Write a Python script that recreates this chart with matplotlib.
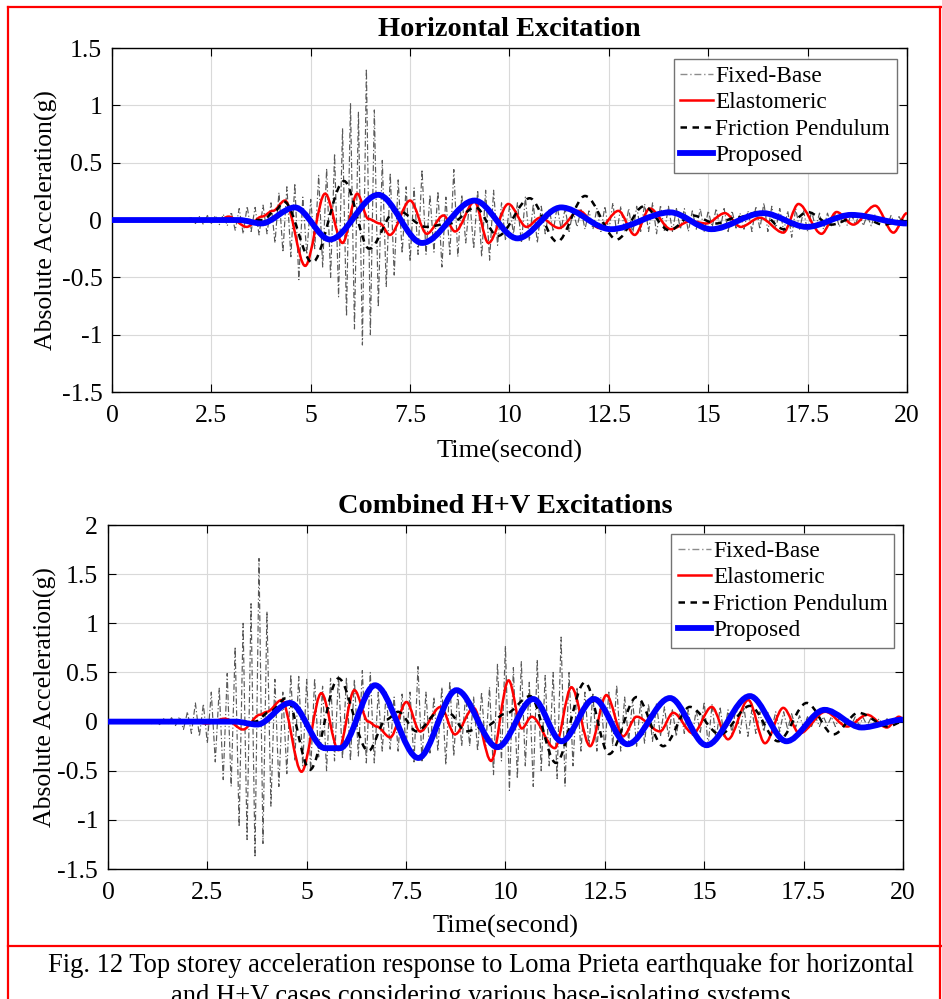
import numpy as np
import matplotlib.pyplot as plt
from matplotlib.path import Path
from matplotlib.patches import PathPatch
from matplotlib.lines import Line2D

plt.rcParams['font.family'] = ['Liberation Serif', 'DejaVu Serif']
plt.rcParams['axes.unicode_minus'] = False

# ---- data ----
# fixed-base response, sampled every 0.1 s starting at t = 1.0 s (one row per second)
FB_T0 = 1.0
FB_DT = 0.1
fb_top = [
    0.00, 0.00, 0.00, 0.00, 0.00, 0.00, 0.00, 0.01, -0.01, 0.01,          # 1 s
    0.02, -0.03, 0.03, -0.04, 0.04, -0.03, 0.04, -0.04, 0.05, -0.05,      # 2 s
    0.07, -0.09, 0.10, -0.12, 0.12, -0.10, 0.11, -0.13, 0.13, -0.12,      # 3 s
    0.15, -0.20, 0.24, -0.28, 0.29, -0.32, 0.32, -0.52, 0.20, -0.30,      # 4 s
    0.18, -0.25, 0.39, -0.41, 0.45, -0.50, 0.58, -0.67, 0.80, -0.84,      # 5 s
    1.02, -0.95, 0.94, -1.09, 1.32, -1.00, 0.96, -0.76, 0.52, -0.58,      # 6 s
    0.41, -0.48, 0.35, -0.29, 0.29, -0.36, 0.28, -0.30, 0.44, -0.30,      # 7 s
    0.22, -0.28, 0.25, -0.41, 0.20, -0.30, 0.44, -0.32, 0.22, -0.20,      # 8 s
    0.18, -0.25, 0.26, -0.32, 0.26, -0.35, 0.26, -0.22, 0.15, -0.18,      # 9 s
    0.12, -0.12, 0.15, -0.20, 0.20, -0.18, 0.14, -0.20, 0.12, -0.12,      # 10 s
    0.10, -0.10, 0.12, -0.08, 0.10, -0.10, 0.08, -0.06, 0.09, -0.08,      # 11 s
    0.08, -0.08, 0.10, -0.10, 0.12, -0.10, 0.15, -0.12, 0.12, -0.10,      # 12 s
    0.10, -0.12, 0.12, -0.10, 0.14, -0.10, 0.15, -0.12, 0.13, -0.10,      # 13 s
    0.12, -0.10, 0.10, -0.08, 0.10, -0.10, 0.08, -0.08, 0.10, -0.10,      # 14 s
    0.08, -0.06, 0.10, -0.08, 0.10, -0.10, 0.08, -0.07, 0.06, -0.08,      # 15 s
    0.08, -0.10, 0.12, -0.08, 0.15, -0.10, 0.12, -0.08, 0.10, -0.10,      # 16 s
    0.08, -0.15, 0.10, -0.08, 0.08, -0.10, 0.08, -0.07, 0.06, -0.08,      # 17 s
    0.06, -0.05, 0.06, -0.06, 0.05, -0.05, 0.06, -0.04, 0.05, -0.05,      # 18 s
    0.04, -0.05, 0.05, -0.04, 0.04, -0.05, 0.04, -0.04, 0.03, -0.03,      # 19 s
]
fb_bot = [
    0.01, -0.02, 0.02, -0.03, 0.03, -0.03, 0.04, -0.04, 0.05, -0.08,      # 1 s
    0.10, -0.12, 0.19, -0.15, 0.18, -0.22, 0.30, -0.41, 0.34, -0.59,      # 2 s
    0.49, -0.66, 0.76, -1.07, 1.00, -1.20, 1.20, -1.38, 1.66, -1.24,      # 3 s
    1.12, -0.86, 0.43, -0.66, 0.30, -0.53, 0.48, -0.40, 0.46, -0.45,      # 4 s
    0.43, -0.50, 0.44, -0.36, 0.36, -0.50, 0.44, -0.40, 0.47, -0.38,      # 5 s
    0.45, -0.40, 0.43, -0.35, 0.52, -0.42, 0.50, -0.42, 0.30, -0.30,      # 6 s
    0.30, -0.28, 0.25, -0.30, 0.28, -0.25, 0.30, -0.41, 0.56, -0.40,      # 7 s
    0.30, -0.32, 0.25, -0.30, 0.35, -0.44, 0.41, -0.35, 0.30, -0.25,      # 8 s
    0.28, -0.25, 0.25, -0.30, 0.30, -0.28, 0.35, -0.54, 0.59, -0.40,      # 9 s
    0.77, -0.70, 0.55, -0.58, 0.61, -0.45, 0.40, -0.66, 0.63, -0.50,      # 10 s
    0.47, -0.45, 0.50, -0.58, 0.86, -0.66, 0.50, -0.45, 0.35, -0.30,      # 11 s
    0.30, -0.25, 0.28, -0.30, 0.25, -0.28, 0.30, -0.25, 0.37, -0.30,      # 12 s
    0.25, -0.20, 0.22, -0.25, 0.20, -0.22, 0.18, -0.20, 0.18, -0.15,      # 13 s
    0.15, -0.15, 0.12, -0.15, 0.15, -0.12, 0.12, -0.15, 0.12, -0.12,      # 14 s
    0.20, -0.24, 0.18, -0.20, 0.15, -0.15, 0.12, -0.12, 0.15, -0.12,      # 15 s
    0.15, -0.15, 0.12, -0.12, 0.10, -0.10, 0.10, -0.08, 0.10, -0.10,      # 16 s
    0.10, -0.08, 0.08, -0.06, 0.06, -0.06, 0.05, -0.05, 0.05, -0.05,      # 17 s
    0.05, -0.04, 0.05, -0.05, 0.04, -0.05, 0.04, -0.04, 0.05, -0.04,      # 18 s
    0.04, -0.04, 0.04, -0.03, 0.03, -0.04, 0.03, -0.03, 0.03, -0.03,      # 19 s
]

# isolated systems: turning points (time s, acceleration g)
elas_top_t = [0, 2.7, 2.93, 3.39, 3.77, 4.05, 4.35, 4.86, 5.36, 5.8, 6.17, 6.45, 6.74, 6.99,
              7.5, 7.92, 8.34, 8.63, 9.12, 9.47, 9.97, 10.43, 10.77, 11.25, 11.75, 12.26,
              12.74, 13.15, 13.53, 14.06, 14.55, 14.95, 15.42, 15.82, 16.3, 16.89, 17.27,
              17.85, 18.23, 18.65, 19.2, 19.66, 20]
elas_top_v = [0, 0, 0.03, -0.06, 0.03, 0.08, 0.17, -0.40, 0.23, -0.20, 0.23, 0.01, -0.03, -0.13,
              0.17, -0.12, 0.04, -0.10, 0.16, -0.20, 0.14, -0.06, 0.02, -0.07, 0.08, -0.07,
              0.08, -0.13, 0.10, -0.08, -0.01, -0.03, 0.06, -0.06, 0.02, -0.11, 0.14,
              -0.12, 0.07, -0.04, 0.125, -0.11, 0.06]
fp_top_t = [0, 3.8, 4.1, 4.33, 5.04, 5.84, 6.47, 7.15, 7.9, 8.5, 9.15, 9.7, 10.51, 11.2, 11.9,
            12.7, 13.38, 14.02, 14.6, 15.2, 15.7, 16.3, 16.9, 17.5, 18.1, 18.8, 19.4, 20]
fp_top_v = [0, 0, 0.08, 0.16, -0.37, 0.34, -0.25, 0.09, -0.06, -0.03, 0.11, -0.14, 0.19, -0.19,
            0.21, -0.17, 0.12, -0.09, 0.04, -0.03, 0.02, 0.07, -0.08, 0.07, -0.04, 0.04, -0.04, 0]
prop_top_t = [0, 3.2, 3.75, 4.6, 5.48, 6.7, 7.8, 9.12, 10.2, 11.3, 12.55, 14.04, 15.08, 16.38,
              17.48, 18.6, 20]
prop_top_v = [0, 0, -0.03, 0.11, -0.17, 0.22, -0.20, 0.17, -0.16, 0.11, -0.08, 0.067, -0.08,
              0.06, -0.06, 0.045, -0.03]

elas_bot_t = [0, 2.2, 2.48, 2.94, 3.4, 3.82, 4.0, 4.37, 4.87, 5.37, 5.8, 6.2, 6.55, 6.76, 7.1,
              7.51, 7.85, 8.37, 8.73, 9.2, 9.64, 10.08, 10.41, 10.66, 11.24, 11.66, 12.13,
              12.54, 12.96, 13.3, 13.89, 14.22, 14.72, 15.19, 15.6, 16.11, 16.53, 16.99,
              17.4, 18.05, 18.6, 19.1, 19.6, 19.9, 20]
elas_bot_v = [0, 0, -0.02, 0.03, -0.08, 0.07, 0.10, 0.22, -0.51, 0.29, -0.29, 0.32, 0.0, -0.05,
              -0.16, 0.20, -0.10, 0.15, -0.13, 0.14, -0.40, 0.42, -0.07, 0.05, -0.27, 0.35,
              -0.25, 0.27, -0.15, 0.05, -0.10, 0.09, -0.12, 0.15, -0.18, 0.22, -0.22, 0.14,
              -0.12, 0.10, -0.05, 0.07, -0.06, 0.05, 0.03]
fp_bot_t = [0, 3.7, 4.07, 4.49, 5.08, 5.8, 6.55, 7.0, 7.3, 7.77, 8.3, 8.6, 9.0, 9.5, 10.0, 10.62,
            11.27, 12.0, 12.61, 13.3, 13.97, 14.64, 15.4, 16.15, 16.86, 17.58, 18.25, 18.88,
            19.63, 20]
fp_bot_v = [0, 0, 0.10, 0.24, -0.49, 0.44, -0.30, 0.02, 0.10, -0.10, 0.09, 0.08, -0.10, -0.05,
            0.08, 0.26, -0.42, 0.40, -0.33, 0.25, -0.25, 0.15, -0.13, 0.16, -0.20, 0.19, -0.13,
            0.09, -0.05, 0]
prop_bot_t = [0, 3.2, 3.75, 4.58, 5.46, 5.84, 6.72, 7.81, 8.77, 9.8, 10.7, 11.41, 12.23, 13.07,
              14.14, 15.06, 16.15, 17.07, 18.03, 18.96, 20]
prop_bot_v = [0, 0, -0.03, 0.19, -0.27, -0.27, 0.37, -0.37, 0.32, -0.26, 0.23, -0.20, 0.23,
              -0.23, 0.24, -0.24, 0.26, -0.20, 0.12, -0.06, 0.02]

x_ticks = [0, 2.5, 5, 7.5, 10, 12.5, 15, 17.5, 20]
x_ticklabels = ['0', '2.5', '5', '7.5', '10', '12.5', '15', '17.5', '20']
names = ['Fixed-Base', 'Elastomeric', 'Friction Pendulum', 'Proposed']
caption = ('Fig. 12 Top storey acceleration response to Loma Prieta earthquake for horizontal\n'
           'and H+V cases considering various base-isolating systems')


def smooth(t, v):
    # bezier through the turning points, flat tangent at each one
    verts = [(t[0], v[0])]
    codes = [Path.MOVETO]
    for i in range(1, len(t)):
        d = (t[i] - t[i - 1]) / 3.0
        verts += [(t[i - 1] + d, v[i - 1]), (t[i] - d, v[i]), (t[i], v[i])]
        codes += [Path.CURVE4] * 3
    return Path(verts, codes)


STY_FB = dict(color='0.35', lw=0.85, ls=(0, (5, 2, 1, 2)))
STY_EL = dict(color='red', lw=1.8, ls='-')
STY_FP = dict(color='black', lw=1.8, ls=(0, (2.6, 2.2)))
STY_PR = dict(color='blue', lw=4.2, ls='-')


def panel(ax, fb, el, fp, pr, ylim, yticks, title, leg_anchor):
    t_fb = FB_T0 + FB_DT * np.arange(len(fb))
    ax.plot(t_fb, fb, zorder=2, **STY_FB)
    for (t, v), sty, z in zip([el, fp, pr], [STY_EL, STY_FP, STY_PR], [3, 4, 5]):
        ax.add_patch(PathPatch(smooth(t, v), fill=False, edgecolor=sty['color'],
                               lw=sty['lw'], ls=sty['ls'], zorder=z))
    ax.set_xlim(0, 20)
    ax.set_ylim(*ylim)
    ax.set_xticks(x_ticks)
    ax.set_xticklabels(x_ticklabels)
    ax.set_yticks(yticks)
    ax.set_yticklabels(['%g' % y for y in yticks])
    ax.grid(True, color='0.85', lw=0.8)
    ax.set_axisbelow(True)
    ax.tick_params(direction='in', top=True, right=True, length=6, width=0.8,
                   labelsize=18.5, pad=7)
    ax.tick_params(axis='x', pad=9)
    for s in ax.spines.values():
        s.set_linewidth(1.0)
    ax.set_title(title, fontsize=20.4, fontweight='bold', pad=9)
    ax.set_xlabel('Time(second)', fontsize=19)
    ax.set_ylabel('Absolute Acceleration(g)', fontsize=18.5)
    handles = [Line2D([], [], **STY_FB), Line2D([], [], **STY_EL),
               Line2D([], [], **STY_FP), Line2D([], [], **STY_PR)]
    handles[0].set_linewidth(1.0)
    handles[0].set_color('0.55')
    leg = ax.legend(handles, names, loc='upper right', bbox_to_anchor=leg_anchor,
                    borderaxespad=0, fontsize=16.8, fancybox=False, framealpha=1,
                    edgecolor='0.45', handlelength=1.4, handletextpad=0.1,
                    labelspacing=0.22, borderpad=0.28)
    leg.get_frame().set_linewidth(1.0)
    leg.set_zorder(10)


fig = plt.figure(figsize=(9.42, 9.99), dpi=100)

ax1 = fig.add_axes([0.1189, 0.6076, 0.8439, 0.3443])
panel(ax1, fb_top, (elas_top_t, elas_top_v), (fp_top_t, fp_top_v), (prop_top_t, prop_top_v),
      (-1.5, 1.5), [-1.5, -1, -0.5, 0, 0.5, 1, 1.5], 'Horizontal Excitation', (0.987, 0.968))
ax1.yaxis.set_label_coords(-0.068, 0.5)
ax1.xaxis.set_label_coords(0.5, -0.14)

ax2 = fig.add_axes([0.1146, 0.1301, 0.8439, 0.3443])
panel(ax2, fb_bot, (elas_bot_t, elas_bot_v), (fp_bot_t, fp_bot_v), (prop_bot_t, prop_bot_v),
      (-1.5, 2), [-1.5, -1, -0.5, 0, 0.5, 1, 1.5, 2], 'Combined H+V Excitations', (0.989, 0.974))
ax2.yaxis.set_label_coords(-0.064, 0.5)
ax2.xaxis.set_label_coords(0.5, -0.133)

# red page frame and caption
red = dict(color='red', lw=1.6, transform=fig.transFigure)
fig.add_artist(Line2D([0.009, 1.0], [0.993, 0.993], **red))
fig.add_artist(Line2D([0.009, 0.009], [0.0, 0.993], **red))
fig.add_artist(Line2D([0.998, 0.998], [0.0, 0.993], **red))
fig.add_artist(Line2D([0.009, 1.0], [0.053, 0.053], **red))
fig.text(0.511, 0.034, caption.split('\n')[0], ha='center', va='center', fontsize=19.1)
fig.text(0.511, 0.003, caption.split('\n')[1], ha='center', va='center', fontsize=19.1)

fig.savefig('out.png', dpi=100)
